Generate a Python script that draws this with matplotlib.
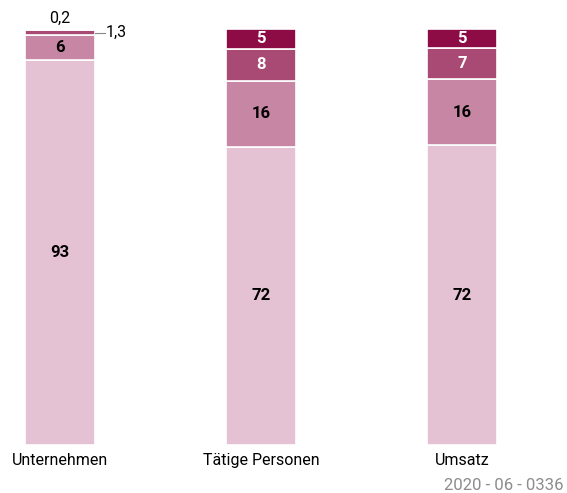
#!/usr/bin/env python3
"""Stacked shares: Unternehmen, Tätige Personen, Umsatz."""

import numpy as np
import matplotlib

matplotlib.use("Agg")
import matplotlib.pyplot as plt

plt.rcParams.update(
    {
        "font.family": ["Roboto", "DejaVu Sans"],
        "font.size": 11.5,
        "figure.facecolor": "white",
        "axes.facecolor": "white",
        "savefig.facecolor": "white",
    }
)

categories = ["Unternehmen", "Tätige Personen", "Umsatz"]
# shares per size class, bottom to top (percent)
seg1 = [92.6, 71.7, 72.0]
seg2 = [5.9, 15.8, 16.0]
seg3 = [1.3, 7.8, 7.4]
seg4 = [0.2, 4.7, 4.6]
labels1 = ["93", "72", "72"]
labels2 = ["6", "16", "16"]
labels3 = ["1,3", "8", "7"]
labels4 = ["0,2", "5", "5"]

colors = ["#E5C2D3", "#C786A4", "#A94A75", "#8E0C45"]
text_colors = ["black", "black", "white", "white"]

W, H = 567, 493
fig = plt.figure(figsize=(W / 100, H / 100), dpi=100)
ax = fig.add_axes([0, 48 / H, 1, 416 / H])

x = np.arange(len(categories))
spacing = 201.0
ax.set_xlim(-60 / spacing, (W - 60) / spacing)
ax.set_ylim(0, 100)
width = 70 / spacing

segs = [seg1, seg2, seg3, seg4]
labs = [labels1, labels2, labels3, labels4]
bottom = np.zeros(len(categories))
for i, (vals, col) in enumerate(zip(segs, colors)):
    vals = np.array(vals)
    ax.bar(x, vals, width, bottom=bottom, color=col, edgecolor="white",
           linewidth=1.2)
    for j in range(len(categories)):
        if vals[j] >= 3:
            ax.text(x[j], bottom[j] + vals[j] / 2, labs[i][j], ha="center",
                    va="center", fontweight="semibold", color=text_colors[i],
                    fontsize=12)
    bottom += vals

# small segments of first bar: annotated outside
y13 = seg1[0] + seg2[0] + seg3[0] / 2
ax.plot([x[0] + width / 2, x[0] + width / 2 + 10 / spacing], [y13, y13],
        color="#888888", linewidth=0.8, clip_on=False)
ax.text(x[0] + width / 2 + 11 / spacing, y13, labels3[0], ha="left",
        va="center", color="black")
ax.text(x[0], 100 + 2.6, labels4[0], ha="center", va="center", color="black")

for s in ax.spines.values():
    s.set_visible(False)
ax.set_yticks([])
ax.set_xticks(x)
ax.set_xticklabels(categories)
ax.tick_params(axis="x", length=0, pad=6)

fig.text(564 / W, 1 - 485 / H, "2020 - 06 - 0336", ha="right", va="center",
         color="#8C8C8C", fontsize=12)

plt.savefig("out.png", dpi=100)
plt.close(fig)
